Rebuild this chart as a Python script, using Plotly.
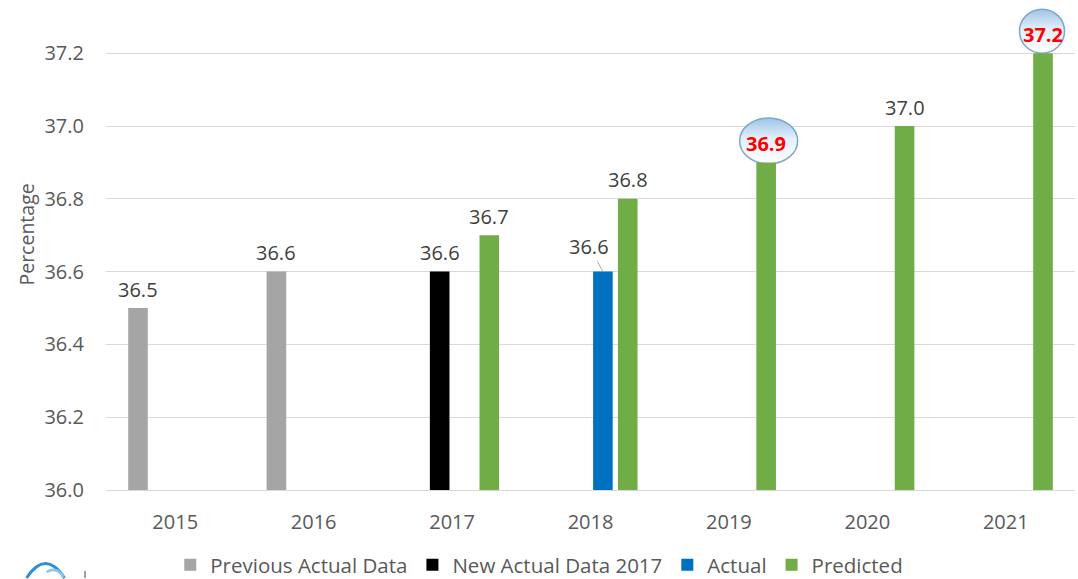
import math
import plotly.graph_objects as go

# ---- data -------------------------------------------------------------
years = ["2015", "2016", "2017", "2018", "2019", "2020", "2021"]
previous_actual = [36.5, 36.6, None, None, None, None, None]
new_actual_2017 = [None, None, 36.6, None, None, None, None]
actual = [None, None, None, 36.6, None, None, None]
predicted = [None, None, 36.7, 36.8, 36.9, 37.0, 37.2]
highlighted_years = ["2019", "2021"]
y_ticks = [36.0, 36.2, 36.4, 36.6, 36.8, 37.0, 37.2]

# ---- layout constants -------------------------------------------------
W, H = 1078, 579
M_L, M_R, M_T, M_B = 105.5, 3, 0, 89
Y_MIN = 36.0
PX_PER_UNIT = 364.0
Y_MAX = Y_MIN + (H - M_T - M_B) / PX_PER_UNIT
PLOT_W = W - M_L - M_R
PLOT_H = H - M_T - M_B

BARGAP = 0.283
BARGROUPGAP = 0.21

FONT = "Open Sans"
TICK_COLOR = "#595959"
LABEL_COLOR = "#404040"
HIGHLIGHT_COLOR = "#ff0000"
LABEL_LIFT = 19  # px between a bar top and the middle of its value label

series = [
    ("Previous Actual Data", previous_actual, "#a5a5a5"),
    ("New Actual Data 2017", new_actual_2017, "#000000"),
    ("Actual", actual, "#0070c0"),
    ("Predicted", predicted, "#70ad47"),
]

group_w = 1 - BARGAP
slot_w = group_w / len(series)


def slot_offset(k):
    """Centre of the k-th bar in a group, in category units."""
    return -group_w / 2 + (k + 0.5) * slot_w


def px_to_paper(px, py):
    return (px - M_L) / PLOT_W, (H - M_B - py) / PLOT_H


fig = go.Figure()
ann = []

for k, (name, values, color) in enumerate(series):
    fig.add_trace(go.Bar(
        name=name, x=years, y=values, marker_color=color,
        marker_line_width=0, cliponaxis=True, hoverinfo="x+y+name",
    ))
    # value labels above each bar
    for i, (year, v) in enumerate(zip(years, values)):
        if v is None:
            continue
        xpos = i + slot_offset(k)
        if name == "Actual":
            # pulled aside with a short leader line
            ann.append(dict(
                x=xpos, y=v, xref="x", yref="y",
                text=f"{v:.1f}", showarrow=True, arrowhead=0, arrowwidth=1,
                arrowcolor="#a6a6a6", standoff=0, ax=-13.5, ay=-25,
                font=dict(family=FONT, size=20, color=LABEL_COLOR),
            ))
            continue
        is_hl = name == "Predicted" and year in highlighted_years
        ann.append(dict(
            x=xpos, y=v, xref="x", yref="y", showarrow=False,
            text=f"<b>{v:.1f}</b>" if is_hl else f"{v:.1f}",
            xanchor="center", yanchor="middle", yshift=LABEL_LIFT,
            font=dict(family=FONT, size=20,
                      color=HIGHLIGHT_COLOR if is_hl else LABEL_COLOR),
        ))

# y-axis title
tx, ty = px_to_paper(25, 235)
ann.append(dict(
    x=tx, y=ty, xref="paper", yref="paper", text="Percentage",
    textangle=-90, showarrow=False, xanchor="center", yanchor="middle",
    font=dict(family=FONT, size=19.5, color=TICK_COLOR),
))

# ---- glossy bubbles behind highlighted forecast labels ---------------
# (dx, centre height above bar top, rx, ry) in pixels
bubble_styles = {"2019": (2.5, 21.5, 29, 23), "2021": (-1.0, 22.0, 22.5, 22)}
stops = [(0.0, (158, 196, 231)), (0.45, (228, 239, 249)), (1.0, (255, 255, 255))]


def grad_color(t):
    for (t0, c0), (t1, c1) in zip(stops[:-1], stops[1:]):
        if t <= t1:
            f = (t - t0) / (t1 - t0)
            return "rgb({},{},{})".format(*[round(a + (b - a) * f) for a, b in zip(c0, c1)])
    return "rgb({},{},{})".format(*stops[-1][1])


shapes = []
k_pred = [s[0] for s in series].index("Predicted")
for year in highlighted_years:
    i = years.index(year)
    v = predicted[i]
    dx, cy, rx, ry = bubble_styles[year]
    xa = i + slot_offset(k_pred)
    n = 30
    h = 2 * ry / n

    def half_w(y):
        q = (y - cy) / ry
        return rx * math.sqrt(max(0.0, 1 - q * q))

    for j in range(n):
        top = cy + ry - j * h
        bot = max(cy - ry, top - h - 0.8)
        ys = [top, (top + bot) / 2, bot]
        right = [f"{dx + half_w(y):.2f},{y:.2f}" for y in ys]
        left = [f"{dx - half_w(y):.2f},{y:.2f}" for y in reversed(ys)]
        path = "M" + " L".join(right + left) + " Z"
        shapes.append(dict(
            type="path", path=path, xref="x", yref="y",
            xsizemode="pixel", ysizemode="pixel", xanchor=xa, yanchor=v,
            fillcolor=grad_color((j + 0.5) / n), line_width=0, layer="between",
        ))
    shapes.append(dict(
        type="circle", xref="x", yref="y", xsizemode="pixel", ysizemode="pixel",
        xanchor=xa, yanchor=v, x0=dx - rx, x1=dx + rx, y0=cy - ry, y1=cy + ry,
        line=dict(color="#7ea6ca", width=1.5), fillcolor="rgba(0,0,0,0)",
        layer="between",
    ))

# small logo fragment at the lower-left page corner
a0 = px_to_paper(26, 578)
a1 = px_to_paper(45, 549)
a2 = px_to_paper(64, 578)
shapes.append(dict(
    type="path", xref="paper", yref="paper",
    path=f"M{a0[0]},{a0[1]} Q{a1[0]},{a1[1]} {a2[0]},{a2[1]}",
    line=dict(color="#2f8fd6", width=3), layer="above",
))
b0 = px_to_paper(46, 572)
b1 = px_to_paper(56, 566)
b2 = px_to_paper(63, 577)
shapes.append(dict(
    type="path", xref="paper", yref="paper",
    path=f"M{b0[0]},{b0[1]} Q{b1[0]},{b1[1]} {b2[0]},{b2[1]}",
    line=dict(color="#8cc6ee", width=2.5), layer="above",
))
c0 = px_to_paper(84.5, 571)
c1 = px_to_paper(84.5, 578)
shapes.append(dict(
    type="line", xref="paper", yref="paper", x0=c0[0], y0=c0[1], x1=c1[0], y1=c1[1],
    line=dict(color="#7f7f7f", width=1.5), layer="above",
))

lx, ly = px_to_paper(539, 565)

fig.update_layout(
    width=W, height=H,
    margin=dict(l=M_L, r=M_R, t=M_T, b=M_B, pad=0, autoexpand=False),
    paper_bgcolor="white", plot_bgcolor="white",
    barmode="group", bargap=BARGAP, bargroupgap=BARGROUPGAP,
    font=dict(family=FONT, color=TICK_COLOR),
    showlegend=True,
    legend=dict(
        orientation="h", x=lx, y=ly, xanchor="center", yanchor="middle",
        font=dict(family=FONT, size=20.5, color=TICK_COLOR),
        itemwidth=30, bgcolor="rgba(0,0,0,0)",
    ),
    annotations=ann,
    shapes=shapes,
)

fig.update_xaxes(
    type="category", range=[-0.5, len(years) - 0.5],
    showgrid=False, showline=True, linecolor="#d9d9d9", linewidth=1,
    ticks="", tickfont=dict(family=FONT, size=20, color=TICK_COLOR),
    ticklabelstandoff=14, fixedrange=True, automargin=False,
)
fig.update_yaxes(
    range=[Y_MIN, Y_MAX], tickvals=y_ticks, tickformat=".1f",
    showgrid=True, gridcolor="#d9d9d9", gridwidth=1, zeroline=False,
    showline=False, ticks="",
    tickfont=dict(family=FONT, size=20, color=TICK_COLOR),
    ticklabelstandoff=21, fixedrange=True, automargin=False,
)

fig.write_html("out.html")
